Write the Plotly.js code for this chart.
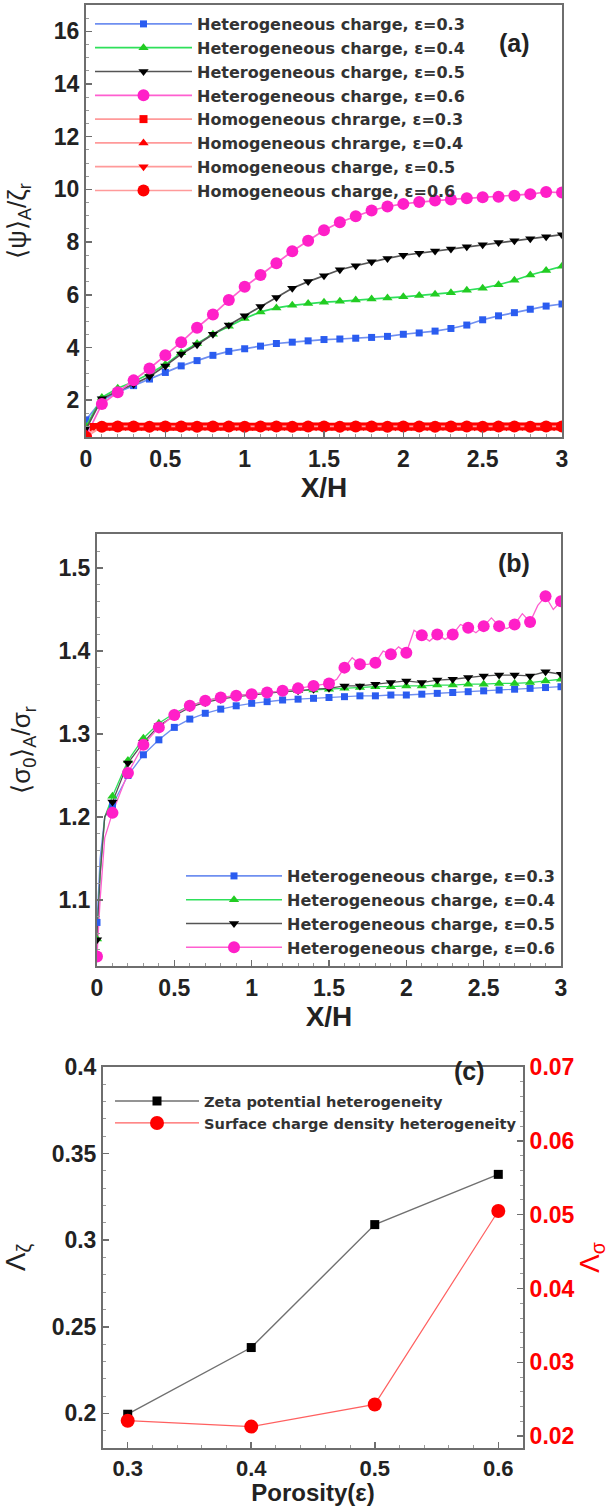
<!DOCTYPE html>
<html><head><meta charset="utf-8">
<script src="https://cdn.plot.ly/plotly-3.0.1.min.js"></script>
<style>html,body{margin:0;padding:0;background:#fff}#chart{width:609px;height:1506px}</style>
</head><body><div id="chart"></div>
<script>
// ---------- Panel (a) data ----------
const X_A = [0,0.1,0.2,0.3,0.4,0.5,0.6,0.7,0.8,0.9,1.0,1.1,1.2,1.3,1.4,1.5,1.6,1.7,1.8,1.9,2.0,2.1,2.2,2.3,2.4,2.5,2.6,2.7,2.8,2.9,3.0];
const X_A_MID = [0.05,0.15,0.25,0.35,0.45,0.55,0.65,0.75,0.85,0.95,1.05,1.15,1.25,1.35,1.45,1.55,1.65,1.75,1.85,1.95,2.05,2.15,2.25,2.35,2.45,2.55,2.65,2.75,2.85,2.95];
const PSI_HET_03 = [1.25,2.0,2.3,2.55,2.8,3.05,3.3,3.5,3.7,3.85,3.95,4.05,4.15,4.2,4.25,4.3,4.32,4.35,4.38,4.42,4.5,4.55,4.62,4.72,4.85,5.05,5.2,5.32,5.45,5.57,5.65];
const PSI_HET_04 = [1.0,2.1,2.45,2.7,3.0,3.35,3.8,4.15,4.5,4.8,5.1,5.35,5.5,5.6,5.67,5.72,5.75,5.8,5.84,5.88,5.92,5.97,6.02,6.08,6.17,6.25,6.38,6.55,6.75,6.92,7.08];
const PSI_HET_05 = [0.9,2.05,2.35,2.6,2.9,3.3,3.75,4.1,4.5,4.85,5.2,5.55,5.9,6.25,6.5,6.72,6.95,7.1,7.25,7.38,7.5,7.58,7.66,7.74,7.82,7.9,7.98,8.05,8.13,8.2,8.28];
const PSI_HET_06 = [0.62,1.85,2.3,2.75,3.2,3.7,4.2,4.75,5.25,5.8,6.3,6.75,7.2,7.65,8.05,8.45,8.75,8.98,9.2,9.35,9.45,9.52,9.58,9.62,9.66,9.7,9.72,9.76,9.82,9.9,9.88];
const PSI_HOM_03 = [0.98,0.99,1.0,0.99,1.0,0.99,1.0,1.0,0.99,1.0,0.99,1.0,1.0,0.99,1.0,0.99,1.0,1.0,0.99,1.0,0.99,1.0,1.0,0.99,1.0,0.99,1.0,1.0,0.99,1.0];
const PSI_HOM_04 = [0.72,0.99,1.0,0.99,1.0,1.0,0.99,1.0,0.99,1.0,1.0,0.99,1.0,0.99,1.0,1.0,0.99,1.0,0.99,1.0,1.0,0.99,1.0,0.99,1.0,1.0,0.99,1.0,0.99,1.0,1.0];
const PSI_HOM_05 = [1.0,0.99,1.0,1.0,0.99,1.0,0.99,1.0,1.0,0.99,1.0,0.99,1.0,1.0,0.99,1.0,0.99,1.0,1.0,0.99,1.0,0.99,1.0,1.0,0.99,1.0,0.99,1.0,1.0,0.99];
const PSI_HOM_06 = [0.6,0.99,1.0,1.0,0.99,1.0,1.0,0.99,1.0,1.0,0.99,1.0,1.0,0.99,1.0,1.0,0.99,1.0,1.0,0.99,1.0,1.0,0.99,1.0,1.0,0.99,1.0,1.0,0.99,1.0,1.0];
const LEG_A = ["Heterogeneous charge, ε=0.3","Heterogeneous charge, ε=0.4","Heterogeneous charge, ε=0.5","Heterogeneous charge, ε=0.6",
               "Homogeneous chrarge, ε=0.3","Homogeneous chrarge, ε=0.4","Homogeneous charge, ε=0.5","Homogeneous charge, ε=0.6"];

// ---------- Panel (b) data ----------
const X_B = [0,0.1,0.2,0.3,0.4,0.5,0.6,0.7,0.8,0.9,1.0,1.1,1.2,1.3,1.4,1.5,1.6,1.7,1.8,1.9,2.0,2.1,2.2,2.3,2.4,2.5,2.6,2.7,2.8,2.9,3.0];
const SIG_03 = [1.073,1.215,1.25,1.275,1.293,1.308,1.318,1.325,1.33,1.334,1.337,1.339,1.341,1.342,1.343,1.344,1.345,1.346,1.346,1.347,1.347,1.348,1.349,1.35,1.351,1.352,1.353,1.354,1.355,1.356,1.357];
const SIG_04 = [1.053,1.225,1.268,1.295,1.313,1.325,1.334,1.34,1.344,1.346,1.348,1.35,1.351,1.352,1.353,1.354,1.355,1.356,1.357,1.357,1.358,1.358,1.359,1.359,1.36,1.36,1.361,1.361,1.362,1.364,1.366];
const SIG_05 = [1.052,1.218,1.265,1.29,1.31,1.322,1.332,1.338,1.342,1.345,1.347,1.349,1.351,1.352,1.354,1.355,1.358,1.358,1.36,1.362,1.364,1.362,1.365,1.366,1.368,1.37,1.371,1.371,1.37,1.375,1.372];
const SIG_06 = [1.032,1.205,1.253,1.287,1.308,1.323,1.334,1.34,1.344,1.346,1.348,1.35,1.352,1.355,1.358,1.361,1.38,1.384,1.386,1.396,1.398,1.419,1.42,1.42,1.428,1.43,1.43,1.432,1.435,1.466,1.46];
// near-wall line samples (x = 0, 0.02, 0.05)
const X_B_START = [0,0.02,0.05];
const SIG_03_START = [1.073,1.15,1.2];
const SIG_04_START = [1.053,1.13,1.2];
const SIG_05_START = [1.052,1.13,1.2];
const SIG_06_START = [1.032,1.10,1.175];
// fine line for eps=0.6 beyond x=1.5 (saw-tooth)
const X_B_PINK_FINE = [1.5,1.55,1.6,1.65,1.7,1.75,1.8,1.85,1.9,1.95,2.0,2.05,2.1,2.15,2.2,2.25,2.3,2.35,2.4,2.45,2.5,2.55,2.6,2.65,2.7,2.75,2.8,2.85,2.9,2.95,3.0];
const SIG_06_FINE = [1.361,1.366,1.380,1.392,1.384,1.384,1.386,1.400,1.396,1.405,1.398,1.425,1.419,1.412,1.420,1.414,1.420,1.432,1.428,1.422,1.430,1.440,1.430,1.427,1.432,1.445,1.435,1.455,1.466,1.450,1.460];
const LEG_B = ["Heterogeneous charge, ε=0.3","Heterogeneous charge, ε=0.4","Heterogeneous charge, ε=0.5","Heterogeneous charge, ε=0.6"];

// ---------- Panel (c) data ----------
const POROSITY = [0.3,0.4,0.5,0.6];
const LAMBDA_ZETA = [0.1995,0.238,0.309,0.338];
const LAMBDA_SIGMA = [0.0221,0.0213,0.0243,0.0505];
const LEG_C = ["Zeta potential heterogeneity","Surface charge density heterogeneity"];

// ---------- styles ----------
const FONT = "Liberation Sans, Arial, Helvetica, sans-serif";
const LFONT = "DejaVu Sans, Verdana, sans-serif";
const AXC = "#6e6e6e";
const HET = [
  {line:"#6f8ff0", mk:"#2a5cf0", sym:"square", size:7},
  {line:"#2ee05a", mk:"#22cc22", sym:"triangle-up", size:9},
  {line:"#555555", mk:"#000000", sym:"triangle-down", size:9},
  {line:"#ff5fd0", mk:"#ff1fc8", sym:"circle", size:12}
];
const HOM = [
  {line:"#ff9a9a", mk:"#ff0000", sym:"square", size:8},
  {line:"#ff9a9a", mk:"#ff0000", sym:"triangle-up", size:9},
  {line:"#ff9a9a", mk:"#ff0000", sym:"triangle-down", size:9},
  {line:"#ff9a9a", mk:"#ff0000", sym:"circle", size:12}
];

const traces = [];
const hetA = [PSI_HET_03,PSI_HET_04,PSI_HET_05,PSI_HET_06];
const homA = [PSI_HOM_03,PSI_HOM_04,PSI_HOM_05,PSI_HOM_06];
const homX = [X_A_MID,X_A,X_A_MID,X_A];
hetA.forEach((ys,i)=>traces.push({x:X_A,y:ys,xaxis:"x",yaxis:"y",mode:"lines+markers",name:LEG_A[i],legend:"legend",
  line:{color:HET[i].line,width:1.7},marker:{color:HET[i].mk,symbol:HET[i].sym,size:HET[i].size}}));
homA.forEach((ys,i)=>traces.push({x:homX[i],y:ys,xaxis:"x",yaxis:"y",mode:"lines+markers",name:LEG_A[4+i],legend:"legend",
  line:{color:HOM[i].line,width:1.7},marker:{color:HOM[i].mk,symbol:HOM[i].sym,size:HOM[i].size}}));

// panel b: fine lines, markers, and legend entries
const sigB = [SIG_03,SIG_04,SIG_05,SIG_06];
const sigStart = [SIG_03_START,SIG_04_START,SIG_05_START,SIG_06_START];
sigB.forEach((ys,i)=>{
  let lx, ly;
  if (i===3) {
    const k = X_B.indexOf(1.5);
    lx = X_B_START.concat(X_B.slice(1,k), X_B_PINK_FINE);
    ly = sigStart[i].concat(ys.slice(1,k), SIG_06_FINE);
  } else {
    lx = X_B_START.concat(X_B.slice(1));
    ly = sigStart[i].concat(ys.slice(1));
  }
  traces.push({x:lx,y:ly,xaxis:"x2",yaxis:"y2",mode:"lines",showlegend:false,line:{color:HET[i].line,width:1.3},hoverinfo:"skip"});
});
sigB.forEach((ys,i)=>traces.push({x:X_B,y:ys,xaxis:"x2",yaxis:"y2",mode:"markers",showlegend:false,
  marker:{color:HET[i].mk,symbol:HET[i].sym,size:HET[i].size}}));
sigB.forEach((ys,i)=>traces.push({x:[null],y:[null],xaxis:"x2",yaxis:"y2",mode:"lines+markers",name:LEG_B[i],legend:"legend2",
  line:{color:HET[i].line,width:1.6},marker:{color:HET[i].mk,symbol:HET[i].sym,size:HET[i].size}}));

// panel c
traces.push({x:POROSITY,y:LAMBDA_ZETA,xaxis:"x3",yaxis:"y3",mode:"lines+markers",name:LEG_C[0],legend:"legend3",
  line:{color:"#707070",width:1.4},marker:{color:"#000",symbol:"square",size:9}});
traces.push({x:POROSITY,y:LAMBDA_SIGMA,xaxis:"x3",yaxis:"y4",mode:"lines+markers",name:LEG_C[1],legend:"legend3",
  line:{color:"#ff6060",width:1.2},marker:{color:"#ff0000",symbol:"circle",size:14}});

const W=609,H=1506;
const px=v=>v/W, py=v=>1-v/H;
const tickF = {family:FONT,size:23,color:"#222",weight:"bold"};
const MINOR = d=>({dtick:d,ticks:"inside",ticklen:3,tickwidth:1,tickcolor:"#999"});
function ax(o){
  return Object.assign({showline:true,linecolor:AXC,linewidth:2,mirror:true,ticks:"inside",ticklen:6,tickwidth:1.5,tickcolor:AXC,
    showgrid:false,zeroline:false,tickfont:tickF,automargin:false},o);
}
const xTitleF = {family:FONT,size:28,color:"#222",weight:"bold"};
const yTitleF = {family:FONT,size:26,color:"#222"};

const layout = {
  width:W,height:H,margin:{l:0,r:0,t:0,b:0},paper_bgcolor:"#fff",plot_bgcolor:"#fff",showlegend:true,
  xaxis: ax({domain:[px(86),px(562)],anchor:"y",range:[0,3],dtick:0.5,minor:MINOR(0.1),
    title:{text:"X/H",font:xTitleF,standoff:1}}),
  yaxis: ax({domain:[py(437),py(5)],anchor:"x",range:[0.6,17],dtick:2,minor:MINOR(0.5),
    title:{text:"⟨ψ⟩<sub>A</sub>/ζ<sub>r</sub>",font:yTitleF,standoff:20}}),
  xaxis2: ax({domain:[px(97),px(561)],anchor:"y2",range:[0,3],dtick:0.5,minor:MINOR(0.1),
    title:{text:"X/H",font:xTitleF,standoff:0}}),
  yaxis2: ax({domain:[py(966),py(534)],anchor:"x2",range:[1.0205,1.541],dtick:0.1,minor:MINOR(0.02),
    title:{text:"⟨σ<sub>0</sub>⟩<sub>A</sub>/σ<sub>r</sub>",font:yTitleF,standoff:20}}),
  xaxis3: ax({domain:[px(103),px(523)],anchor:"y3",range:[0.28,0.62],dtick:0.1,minor:MINOR(0.02),
    tickfont:{family:FONT,size:22,color:"#222",weight:"bold"},
    title:{text:"Porosity(ε)",font:{family:FONT,size:24,color:"#222",weight:"bold"},standoff:12}}),
  yaxis3: ax({domain:[py(1448),py(1067)],anchor:"x3",range:[0.18,0.4],dtick:0.05,mirror:false,minor:MINOR(0.01),
    title:{text:"Λ<sub>ζ</sub>",font:{family:FONT,size:28,color:"#222"},standoff:18}}),
  yaxis4: ax({domain:[py(1448),py(1067)],anchor:"x3",overlaying:"y3",side:"right",range:[0.0184,0.07],dtick:0.01,mirror:false,
    tickfont:{family:FONT,size:23,color:"#ff0000",weight:"bold"},minor:MINOR(0.002),
    title:{text:"Λ<sub>σ</sub>",font:{family:FONT,size:28,color:"#ff0000"},standoff:14}}),
  legend:{x:px(90),y:py(7),xanchor:"left",yanchor:"top",itemwidth:97,bgcolor:"rgba(0,0,0,0)",
    font:{family:LFONT,size:16,color:"#333",weight:"bold"},tracegroupgap:0},
  legend2:{x:px(181),y:py(859),xanchor:"left",yanchor:"top",itemwidth:96,bgcolor:"rgba(0,0,0,0)",
    font:{family:LFONT,size:16,color:"#333",weight:"bold"}},
  legend3:{x:px(110),y:py(1085),xanchor:"left",yanchor:"top",itemwidth:84,bgcolor:"rgba(0,0,0,0)",
    font:{family:LFONT,size:14.6,color:"#333",weight:"bold"}},
  annotations:[
    {text:"(a)",x:px(532),y:py(27),xref:"paper",yref:"paper",showarrow:false,font:{family:FONT,size:25,color:"#222",weight:"bold"}},
    {text:"(b)",x:px(532),y:py(563),xref:"paper",yref:"paper",showarrow:false,font:{family:FONT,size:25,color:"#222",weight:"bold"}},
    {text:"(c)",x:px(487),y:py(1087),xref:"paper",yref:"paper",showarrow:false,font:{family:FONT,size:25,color:"#222",weight:"bold"}}
  ]
};
Plotly.newPlot("chart",traces,layout,{displayModeBar:false,staticPlot:true});
</script></body></html>
